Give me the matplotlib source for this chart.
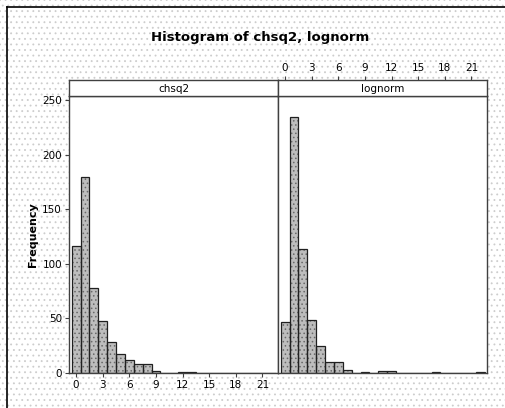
import matplotlib.pyplot as plt
import numpy as np
from matplotlib.patches import Rectangle
from matplotlib.lines import Line2D

# data: counts per unit-width bin centred on 0, 1, 2, ...
bin_centers = np.arange(0, 23)
chsq2_counts = [116, 180, 78, 48, 28, 17, 12, 8, 8, 2, 0, 0, 1, 1,
                0, 0, 0, 0, 0, 0, 0, 0, 0]
lognorm_counts = [47, 235, 114, 49, 25, 10, 10, 3, 0, 1, 0, 2, 2, 0,
                  0, 0, 0, 1, 0, 0, 0, 0, 1]
panel_names = ['chsq2', 'lognorm']
x_ticks = [0, 3, 6, 9, 12, 15, 18, 21]
y_ticks = [0, 50, 100, 150, 200, 250]

plt.rcParams['hatch.linewidth'] = 0.6

W, H = 505, 408
fig = plt.figure(figsize=(W / 100, H / 100), dpi=100)
fig.patch.set_facecolor('white')

# stippled background
bg = Rectangle((0, 0), 1, 1, transform=fig.transFigure, facecolor='white',
               edgecolor='#cdcdcd', hatch='...', linewidth=0, zorder=-10)
fig.add_artist(bg)
# border lines (left and top)
fig.add_artist(Line2D([7 / 505, 7 / 505], [0, 1 - 7 / 408], color='black', lw=1.2))
fig.add_artist(Line2D([7 / 505, 1], [1 - 7 / 408, 1 - 7 / 408], color='black', lw=1.2))

def fx(px):
    return px / W

def fy(py):
    return 1 - py / H

pw = fx(278) - fx(69)
ax_b = fy(373)
ax_h = fy(96) - fy(373)
strip_h = fy(80) - fy(96)
lefts = [fx(69), fx(278)]
data = [chsq2_counts, lognorm_counts]

for i, (name, counts) in enumerate(zip(panel_names, data)):
    ax = fig.add_axes([lefts[i], ax_b, pw, ax_h])
    ax.set_facecolor('white')
    # hatched fill then dark outline
    ax.bar(bin_centers, counts, width=1.0, color='#bdbdbd', edgecolor='#6a6a6a',
           hatch='....', linewidth=0)
    ax.bar(bin_centers, counts, width=1.0, fill=False, edgecolor='#202020',
           linewidth=0.9)
    ax.set_xlim(-0.8, 22.75)
    ax.set_ylim(0, 254)
    for s in ax.spines.values():
        s.set_color('#404040')
        s.set_linewidth(1.0)
    ax.set_xticks(x_ticks)
    ax.set_yticks(y_ticks)
    ax.tick_params(length=3, width=0.8, color='#404040', labelsize=7.5,
                   pad=2, direction='out')
    if i == 0:
        ax.tick_params(axis='x', bottom=True, labelbottom=True)
        ax.set_ylabel('Frequency', fontsize=8, fontweight='bold', labelpad=3)
    else:
        ax.tick_params(axis='x', bottom=False, labelbottom=False)
        ax.tick_params(axis='y', left=False, labelleft=False)

    # strip header
    st = fig.add_axes([lefts[i], fy(96), pw, strip_h])
    st.set_facecolor('white')
    st.set_xlim(-0.8, 22.75)
    st.set_yticks([])
    for s in st.spines.values():
        s.set_color('#404040')
        s.set_linewidth(1.0)
    st.text(0.5, 0.45, name, transform=st.transAxes, ha='center', va='center',
            fontsize=7.5)
    if i == 1:
        st.set_xticks(x_ticks)
        st.tick_params(axis='x', top=True, labeltop=True, bottom=False,
                       labelbottom=False, length=3, width=0.8, color='#404040',
                       labelsize=7.5, pad=2)
    else:
        st.set_xticks([])

fig.text(fx(260), fy(37), 'Histogram of chsq2, lognorm', ha='center',
         va='center', fontsize=9.5, fontweight='bold')

fig.savefig('out.png', dpi=100)
